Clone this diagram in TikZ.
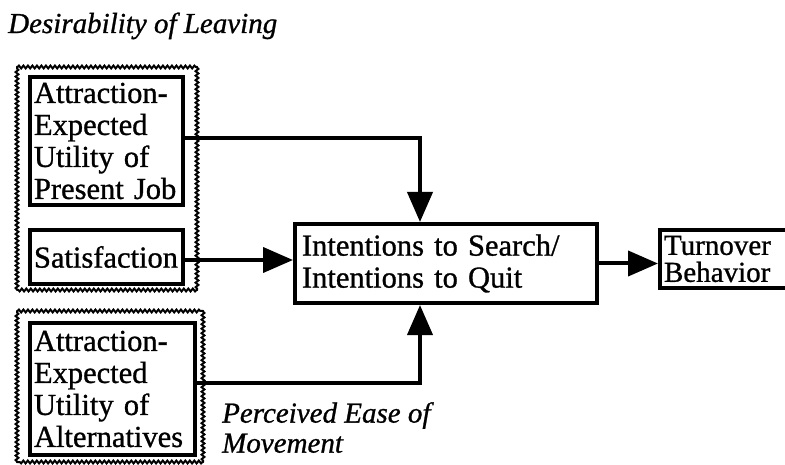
\documentclass[tikz,border=0pt]{standalone}
\usepackage{fontspec}
\setmainfont{Liberation Serif}[FakeBold=0.9]
\usetikzlibrary{arrows.meta,decorations.pathmorphing}
\begin{document}
\begin{tikzpicture}[x=1pt,y=-1pt,
  txt/.style={font=\fontsize{30.5}{32}\selectfont},
  itl/.style={font=\fontsize{29}{29}\selectfont\itshape, inner sep=0pt, align=left},
  box/.style={draw, line width=4pt, inner sep=0pt, txt, align=left},
  group/.style={draw, line width=2pt, line cap=round, decorate,
    decoration={snake, segment length=4.5pt, amplitude=1.4pt,
      pre length=0.5pt, post length=0.5pt}},
  link/.style={line width=4pt},
  arr/.style={link, -{Triangle[length=30pt,width=25pt]}}]
\clip (0,0) rectangle (785,465);
\fill[white] (0,0) rectangle (785,465);

% title of the upper group
\node[itl, anchor=base west] (title) at (8,33) {Desirability of Leaving};

% wavy group outlines, one side at a time so the corners close
\foreach \xa/\ya/\xb/\yb in {17/67/197/290, 17/311/203/462} {
  \draw[group] (\xa,\ya) -- (\xb,\ya);
  \draw[group] (\xb,\ya) -- (\xb,\yb);
  \draw[group] (\xb,\yb) -- (\xa,\yb);
  \draw[group] (\xa,\yb) -- (\xa,\ya);
}

% input boxes
\node[box, minimum width=153, minimum height=128, text width=145] (pj) at (106.5,141)
  {Attraction-\\Expected\\Utility of\\Present Job};
\node[box, minimum width=153, minimum height=54, text width=145] (sat) at (106.5,257)
  {Satisfaction};
\node[box, minimum width=165, minimum height=132, text width=157] (alt) at (112.5,389)
  {Attraction-\\Expected\\Utility of\\Alternatives};

% intentions and outcome
\node[box, minimum width=302, minimum height=79, text width=288] (cen) at (446,263.5)
  {Intentions to Search/\\Intentions to Quit};
\node[box, minimum width=130, minimum height=58, text width=122,
  font=\fontsize{29}{27}\selectfont] (turn) at (725,259)
  {Turnover\\Behavior};

% label of the lower group
\node[itl, anchor=north west] (ease) at (222,402) {Perceived Ease of\\[1pt]Movement};

% connectors
\draw[arr] ([yshift=3pt]pj.east) -| ([xshift=-26pt]cen.north);
\draw[arr] ([yshift=-3pt]sat.east) -- ([yshift=-3pt]sat.east -| cen.west);
\draw[arr] ([yshift=6pt]alt.east) -| ([xshift=-26pt]cen.south);
\draw[arr] (cen.east) -- (cen.east -| turn.west);
\end{tikzpicture}
\end{document}
